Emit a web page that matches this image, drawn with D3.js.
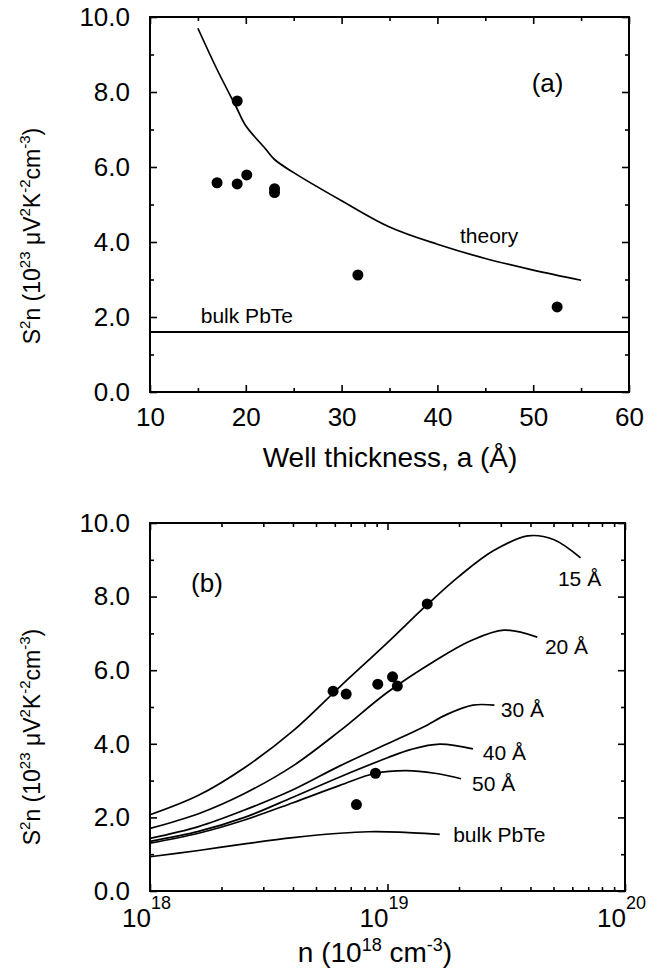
<!DOCTYPE html>
<html>
<head>
<meta charset="utf-8">
<script src="https://cdn.jsdelivr.net/npm/d3@7"></script>
<style>
    body { margin: 0; background: #fff; }
    svg { font-family: "Liberation Sans", Arial, Helvetica, sans-serif; }
</style>
</head>
<body>
<svg width="664" height="975"></svg>
<script>
// Panel (a): S^2n against well thickness.
var theoryA = [15, 17, 19, 20, 22, 23, 25, 30, 35, 40, 45, 50, 55];
var theoryS2n = [9.7, 8.6, 7.6, 7.1, 6.5, 6.2, 5.85, 5.1, 4.4, 3.94, 3.56, 3.25, 2.98];
var measuredA = [19.1, 17.0, 19.1, 20.1, 23.0, 23.0, 31.7, 52.5];
var measuredS2nA = [7.76, 5.58, 5.55, 5.79, 5.42, 5.32, 3.12, 2.27];
var bulkS2n = 1.6;
var thicknessTicks = [10, 20, 30, 40, 50, 60];
var thicknessMinor = [15, 25, 35, 45, 55];

// Panel (b): S^2n against carrier density, one curve per well width.
var curveNames = ["15 Å", "20 Å", "30 Å", "40 Å", "50 Å", "bulk PbTe"];
var curveN = [
    [1e18, 1.6e18, 2.5e18, 4e18, 6.3e18, 1e19, 1.48e19, 2e19, 2.8e19, 3.9e19, 5e19, 6.5e19],
    [1e18, 1.6e18, 2.5e18, 4e18, 6.3e18, 1e19, 1.58e19, 2.24e19, 3.09e19, 4.27e19],
    [1e18, 1.6e18, 2.5e18, 4e18, 6.3e18, 1e19, 1.41e19, 1.78e19, 2.29e19, 2.82e19],
    [1e18, 1.6e18, 2.5e18, 4e18, 6.3e18, 1e19, 1.26e19, 1.66e19, 2.29e19],
    [1e18, 1.6e18, 2.5e18, 4e18, 6.3e18, 8.9e18, 1.2e19, 1.58e19, 2.04e19],
    [1e18, 1.6e18, 2.5e18, 4e18, 6.3e18, 8.3e18, 1.12e19, 1.66e19]
];
var curveS2n = [
    [2.07, 2.6, 3.35, 4.35, 5.55, 6.75, 7.8, 8.55, 9.25, 9.65, 9.55, 9.05],
    [1.70, 2.1, 2.65, 3.4, 4.35, 5.4, 6.25, 6.8, 7.09, 6.9],
    [1.43, 1.75, 2.2, 2.75, 3.4, 4.0, 4.45, 4.8, 5.05, 5.05],
    [1.35, 1.62, 2.0, 2.55, 3.1, 3.62, 3.85, 3.99, 3.86],
    [1.30, 1.57, 1.93, 2.4, 2.87, 3.2, 3.27, 3.2, 3.05],
    [0.93, 1.1, 1.28, 1.45, 1.57, 1.61, 1.6, 1.54]
];
// Where each curve label sits (n, S^2n).
var labelN = [5.22e19, 4.6e19, 3.0e19, 2.52e19, 2.27e19, 1.89e19];
var labelS2n = [8.5, 6.63, 4.92, 3.77, 2.93, 1.52];
var measuredN = [5.9e18, 6.7e18, 9.1e18, 1.05e19, 1.1e19, 1.47e19, 8.9e18, 7.4e18];
var measuredS2nB = [5.43, 5.35, 5.62, 5.82, 5.57, 7.8, 3.2, 2.35];
var densityTicks = [1e18, 1e19, 1e20];
var densityExponents = ["18", "19", "20"];

var s2nTicks = [0, 2, 4, 6, 8, 10];
var s2nMinor = [1, 3, 5, 7, 9];

var svg = d3.select("svg");

var xA = d3.scaleLinear().domain([10, 60]).range([150, 629]);
var yA = d3.scaleLinear().domain([0, 10]).range([392, 17]);
var xB = d3.scaleLog().domain([1e18, 1e20]).range([150, 625]);
var yB = d3.scaleLinear().domain([0, 10]).range([891, 523]);

function styleAxis(g) {
    g.attr("font-family", null).attr("font-size", 26);
    g.select(".domain").remove();
    g.selectAll("line").attr("stroke", "#000").attr("stroke-width", 1.6);
    g.selectAll("text").attr("fill", "#000");
}

function drawFrame(x, y, xMajor, xMinor, xFormat) {
    var x0 = x.range()[0], x1 = x.range()[1];
    var y0 = y.range()[0], y1 = y.range()[1];

    // Left axis with labels, right axis plain; all ticks point inwards.
    svg.append("g").attr("transform", "translate(" + x0 + ",0)")
        .call(d3.axisLeft(y).tickValues(s2nTicks).tickSizeInner(-7).tickSizeOuter(0)
            .tickPadding(20).tickFormat(d3.format(".1f")))
        .call(styleAxis);
    [[x0, d3.axisLeft], [x1, d3.axisRight]].forEach(function(side) {
        svg.append("g").attr("transform", "translate(" + side[0] + ",0)")
            .call(side[1](y).tickValues(s2nMinor).tickSizeInner(-4).tickSizeOuter(0).tickFormat(""))
            .call(styleAxis);
    });
    svg.append("g").attr("transform", "translate(" + x1 + ",0)")
        .call(d3.axisRight(y).tickValues(s2nTicks).tickSizeInner(-7).tickSizeOuter(0).tickFormat(""))
        .call(styleAxis);

    // Bottom and top.
    svg.append("g").attr("transform", "translate(0," + y0 + ")")
        .call(d3.axisBottom(x).tickValues(xMajor).tickSizeInner(-7).tickSizeOuter(0)
            .tickPadding(16).tickFormat(xFormat))
        .call(styleAxis);
    svg.append("g").attr("transform", "translate(0," + y1 + ")")
        .call(d3.axisTop(x).tickValues(xMajor).tickSizeInner(-7).tickSizeOuter(0).tickFormat(""))
        .call(styleAxis);
    [[y0, d3.axisBottom], [y1, d3.axisTop]].forEach(function(side) {
        svg.append("g").attr("transform", "translate(0," + side[0] + ")")
            .call(side[1](x).tickValues(xMinor).tickSizeInner(-4).tickSizeOuter(0).tickFormat(""))
            .call(styleAxis);
    });

    svg.append("rect")
        .attr("x", x0).attr("y", y1)
        .attr("width", x1 - x0).attr("height", y0 - y1)
        .attr("fill", "none").attr("stroke", "#000").attr("stroke-width", 2);
}

function yTitle(cx, cy) {
    var t = svg.append("text")
        .attr("transform", "translate(" + cx + "," + cy + ") rotate(-90)")
        .attr("text-anchor", "middle")
        .attr("font-size", 23);
    // Pieces of "S2n (1023 uV2K-2cm-3)", with superscripts flagged.
    var parts = [["S", 0], ["2", 1], ["n (10", 0], ["23", 1], [" \u03bcV", 0], ["2", 1],
        ["K", 0], ["-2", 1], ["cm", 0], ["-3", 1], [")", 0]];
    var raised = false;
    parts.forEach(function(p) {
        var s = t.append("tspan").text(p[0]);
        if (p[1]) {
            s.attr("font-size", 15).attr("dy", raised ? 0 : -10);
            raised = true;
        } else {
            s.attr("dy", raised ? 10 : 0);
            raised = false;
        }
    });
}

function dots(x, y, xs, ys) {
    svg.append("g").selectAll("circle")
        .data(xs)
        .join("circle")
        .attr("cx", function(d) { return x(d); })
        .attr("cy", function(d, i) { return y(ys[i]); })
        .attr("r", 5.5)
        .attr("fill", "#000");
}

function curve(x, y, xs, ys) {
    var line = d3.line()
        .x(function(d) { return x(d); })
        .y(function(d, i) { return y(ys[i]); })
        .curve(d3.curveCatmullRom.alpha(0.5));
    svg.append("path")
        .attr("d", line(xs))
        .attr("fill", "none")
        .attr("stroke", "#000")
        .attr("stroke-width", 1.7);
}

// ---- Panel (a) ----
drawFrame(xA, yA, thicknessTicks, thicknessMinor, d3.format("d"));

curve(xA, yA, theoryA, theoryS2n);
svg.append("line")
    .attr("x1", xA.range()[0]).attr("x2", xA.range()[1])
    .attr("y1", yA(bulkS2n)).attr("y2", yA(bulkS2n))
    .attr("stroke", "#000").attr("stroke-width", 1.8);
dots(xA, yA, measuredA, measuredS2nA);

svg.append("text").attr("x", xA(51.5)).attr("y", yA(8.24)).attr("dy", "0.35em")
    .attr("text-anchor", "middle").attr("font-size", 26).text("(a)");
svg.append("text").attr("x", xA(45.4)).attr("y", yA(4.16)).attr("dy", "0.35em")
    .attr("text-anchor", "middle").attr("font-size", 21).text("theory");
svg.append("text").attr("x", xA(15.3)).attr("y", yA(2.04)).attr("dy", "0.35em")
    .attr("font-size", 21).text("bulk PbTe");

svg.append("text").attr("x", 390).attr("y", 467)
    .attr("text-anchor", "middle").attr("font-size", 28).text("Well thickness, a (\u00c5)");
yTitle(40, 236);

// ---- Panel (b) ----
var densityMinor = xB.ticks().filter(function(d) { return densityTicks.indexOf(d) < 0; });
drawFrame(xB, yB, densityTicks, densityMinor, function() { return ""; });

densityTicks.forEach(function(d, i) {
    svg.append("text").attr("x", xB(d) + 1).attr("y", 927)
        .attr("text-anchor", "end").attr("font-size", 26).text("10");
    svg.append("text").attr("x", xB(d) + 1).attr("y", 909)
        .attr("font-size", 18).text(densityExponents[i]);
});

curveNames.forEach(function(name, i) {
    curve(xB, yB, curveN[i], curveS2n[i]);
    svg.append("text").attr("x", xB(labelN[i])).attr("y", yB(labelS2n[i])).attr("dy", "0.35em")
        .attr("font-size", 21).text(name);
});
dots(xB, yB, measuredN, measuredS2nB);

svg.append("text").attr("x", 375).attr("y", 962).attr("text-anchor", "middle")
    .attr("font-size", 28)
    .call(function(t) {
        t.append("tspan").text("n (10");
        t.append("tspan").attr("font-size", 18).attr("dy", -11).text("18");
        t.append("tspan").attr("dy", 11).text(" cm");
        t.append("tspan").attr("font-size", 18).attr("dy", -11).text("-3");
        t.append("tspan").attr("dy", 11).text(")");
    });
svg.append("text").attr("x", 207).attr("y", 583).attr("dy", "0.35em")
    .attr("text-anchor", "middle").attr("font-size", 26).text("(b)");
yTitle(40, 737);
</script>
</body>
</html>
